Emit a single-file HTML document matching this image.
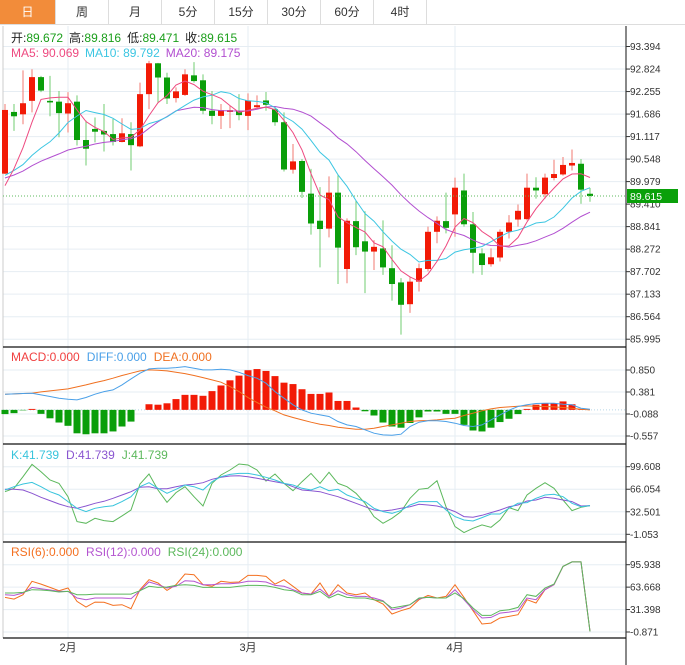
<!DOCTYPE html>
<html><head><meta charset="utf-8">
<style>
html,body{margin:0;padding:0;background:#fff;}
body{width:685px;height:665px;overflow:hidden;position:relative;font-family:"Liberation Sans","Noto Sans CJK SC",sans-serif;}
.tabs{position:absolute;left:0;top:0;width:685px;height:25px;border-bottom:1px solid #ddd;box-sizing:border-box;}
.tab{position:absolute;top:0;height:24px;line-height:24px;text-align:center;font-size:12px;color:#333;border-right:1px solid #ddd;box-sizing:border-box;}
.tab.on{background:#f28c3a;color:#fff;}
svg{position:absolute;left:0;top:0;}
</style></head>
<body>
<div class="tabs">
<div class="tab on" style="left:0;width:56px">日</div>
<div class="tab" style="left:56px;width:53px">周</div>
<div class="tab" style="left:109px;width:53px">月</div>
<div class="tab" style="left:162px;width:53px">5分</div>
<div class="tab" style="left:215px;width:53px">15分</div>
<div class="tab" style="left:268px;width:53px">30分</div>
<div class="tab" style="left:321px;width:53px">60分</div>
<div class="tab" style="left:374px;width:53px">4时</div>
</div>
<svg id="chart" width="685" height="665" viewBox="0 0 685 665" style="top:0"></svg>
<script>
const prevCloses=[90.1,90.0,89.9,90.0,90.1,89.9,90.0,90.0,89.9,90.1,90.4,90.5,90.3,90.4,90.4,89.5,89.3,89.4,89.4];
const opens=[90.18,91.74,91.68,92.02,92.62,92.02,92.00,91.70,92.00,91.03,91.31,91.26,91.18,90.98,91.18,90.87,92.19,92.97,92.61,92.09,92.17,92.665,92.54,91.77,91.64,91.74,91.77,91.64,91.86,92.03,91.81,91.48,90.28,90.50,89.675,88.99,88.79,89.70,87.77,88.98,88.47,88.21,88.29,87.79,87.43,86.88,87.45,87.77,88.71,88.98,89.15,89.755,88.90,88.165,87.89,88.06,88.71,89.02,89.03,89.825,89.66,90.07,90.16,90.385,90.43,89.672];
const highs=[91.94,91.94,92.79,92.82,92.65,92.65,92.27,92.24,92.16,91.52,91.60,91.94,91.56,91.58,91.48,92.48,93.03,92.98,92.73,92.36,92.82,93.00,92.69,92.27,91.94,91.89,92.19,92.21,92.16,92.245,91.89,91.73,90.93,90.55,90.30,89.84,90.11,90.14,89.05,89.50,89.23,88.50,89.00,88.37,87.54,87.58,87.91,88.84,89.10,89.70,90.08,90.18,89.21,88.29,88.29,88.77,89.13,89.40,90.18,90.09,90.18,90.53,90.60,90.79,90.55,89.816];
const lows=[90.17,91.26,91.43,91.73,92.24,91.63,91.10,91.22,90.89,90.385,90.97,90.74,90.89,90.97,90.26,90.85,91.81,91.98,91.94,91.98,92.145,92.48,91.68,91.43,91.31,91.33,91.53,91.28,91.81,91.77,91.39,90.235,90.18,89.565,88.64,87.81,88.57,87.39,87.41,88.12,87.16,87.745,87.62,86.97,86.11,86.66,87.20,87.71,88.42,88.67,88.585,88.84,87.66,87.62,87.83,87.96,88.54,88.84,89.00,89.55,89.55,90.01,90.13,90.26,89.42,89.471];
const closes=[91.79,91.63,91.96,92.62,92.28,91.98,91.71,91.96,91.03,90.81,91.24,91.17,90.98,91.20,90.90,92.19,92.97,92.61,92.08,92.26,92.69,92.52,91.77,91.64,91.785,91.785,91.66,92.03,91.91,91.92,91.48,90.285,90.49,89.72,88.92,88.78,89.70,88.31,88.99,88.32,88.21,88.33,87.81,87.39,86.865,87.45,87.79,88.71,88.99,88.81,89.825,88.90,88.18,87.87,88.065,88.71,88.945,89.24,89.825,89.755,90.08,90.17,90.40,90.45,89.775,89.615];
const priceTicks=[93.394,92.824,92.255,91.686,91.117,90.548,89.979,89.410,88.841,88.272,87.702,87.133,86.564,85.995];
const macdBars=[-0.09,-0.07,-0.01,0.02,-0.085,-0.18,-0.27,-0.34,-0.50,-0.52,-0.50,-0.50,-0.46,-0.355,-0.25,0,0.12,0.11,0.14,0.23,0.32,0.32,0.30,0.40,0.52,0.63,0.73,0.845,0.87,0.83,0.72,0.58,0.55,0.44,0.34,0.34,0.37,0.19,0.19,0.05,-0.03,-0.12,-0.27,-0.355,-0.38,-0.28,-0.16,-0.035,-0.035,-0.085,-0.085,-0.32,-0.44,-0.46,-0.38,-0.26,-0.19,-0.09,0.02,0.11,0.14,0.14,0.18,0.12,0.01,0];
const diffVals=[0.334,0.341,0.348,0.355,0.32,0.284,0.249,0.227,0.213,0.263,0.334,0.39,0.426,0.533,0.66,0.781,0.873,0.888,0.888,0.902,0.923,0.888,0.852,0.852,0.866,0.852,0.802,0.731,0.675,0.568,0.39,0.249,0.107,0,-0.071,-0.107,-0.142,-0.249,-0.32,-0.355,-0.426,-0.497,-0.533,-0.54,-0.518,-0.355,-0.263,-0.234,-0.234,-0.249,-0.284,-0.334,-0.355,-0.32,-0.213,-0.107,-0.007,0.071,0.107,0.135,0.142,0.142,0.121,0.107,0.036,0.014];
const deaVals=[0.334,0.341,0.348,0.355,0.384,0.405,0.426,0.447,0.49,0.533,0.582,0.625,0.675,0.732,0.781,0.83,0.852,0.845,0.83,0.802,0.774,0.732,0.689,0.639,0.589,0.497,0.391,0.262,0.156,0.057,-0.021,-0.107,-0.163,-0.213,-0.263,-0.305,-0.334,-0.369,-0.391,-0.412,-0.412,-0.391,-0.355,-0.32,-0.284,-0.249,-0.234,-0.227,-0.213,-0.192,-0.178,-0.121,-0.071,-0.021,0.021,0.05,0.064,0.078,0.085,0.078,0.071,0.064,0.05,0.036,0.014,0];
const macdTicks=[0.850,0.381,-0.088,-0.557];
const kVals=[64.9,69.9,73.8,76.3,69.9,62.4,57.5,47.6,37.7,32.7,37.7,40.1,41.6,47.6,55.0,69.9,75.8,67.4,60.0,65.9,72.4,69.9,64.9,77.3,84.7,88.2,89.7,89.7,87.2,83.8,79.8,74.8,72.4,67.4,64.9,69.9,63.9,65.9,57.5,52.5,47.6,37.7,32.7,30.2,34.2,42.6,47.6,47.6,47.6,35.2,25.3,20.3,18.8,23.8,29.2,29.2,37.7,45.1,46.1,52.5,57.5,58.5,55.0,45.1,40.1,41.7];
const dVals=[65.9,65.9,64.9,60.0,54.0,49.1,44.1,40.1,37.7,41.1,45.1,48.1,52.5,57.5,62.4,68.9,69.9,66.9,66.9,69.9,72.4,73.4,75.8,80.8,83.8,85.7,86.2,84.7,82.3,79.8,77.3,74.8,69.9,64.9,63.9,62.4,58.5,55.0,50.0,45.1,40.1,35.2,33.7,35.2,37.7,40.1,43.6,42.6,41.1,37.7,32.7,25.3,24.3,27.3,31.2,35.2,40.1,42.6,48.6,50.0,54.0,52.5,50.0,47.6,41.1,41.7];
const jVals=[62.4,67.4,84.7,103.1,92.2,79.8,74.8,55.0,17.8,15.4,22.8,19.3,17.8,26.3,35.2,73.8,88.7,64.9,46.6,61.0,69.9,55.0,41.1,74.8,87.2,94.7,103.6,102.1,94.7,78.3,88.7,74.8,63.9,77.3,89.7,74.8,91.2,74.8,69.9,60.0,45.1,25.3,15.4,22.8,32.7,52.5,65.9,67.4,78.8,40.1,10.4,1.5,7.9,12.9,9.4,20.3,38.7,34.2,57.5,67.4,75.8,67.4,50.0,34.2,39.2,41.7];
const kdjTicks=[99.608,66.054,32.501,-1.053];
const rsi6=[48.9,46.5,52.8,72.0,68.1,63.3,58.5,62.4,43.2,35.0,42.2,41.8,37.4,38.4,32.6,60.0,74.4,69.6,59.0,67.2,82.5,81.6,67.2,64.8,72.0,70.5,71.0,80.6,80.6,79.1,68.1,74.4,64.8,55.2,53.7,69.6,50.4,67.2,55.2,52.8,55.2,45.6,39.4,25.0,29.8,33.6,45.6,51.8,48.0,50.4,67.2,48.9,29.8,10.6,12.0,19.2,21.6,24.0,45.6,40.8,60.0,67.2,93.5,100,100,0];
const rsi12=[52.8,51.8,55.2,63.3,61.4,59.5,57.6,57.6,48.0,45.6,48.0,48.0,48.0,48.0,47.0,58.5,71.0,67.2,62.4,64.8,72.9,72.0,67.2,67.2,68.6,68.6,69.6,72.0,72.0,71.0,66.2,64.8,60.0,55.2,53.7,60.9,50.4,58.5,52.8,50.4,50.4,48.0,44.1,31.2,33.6,38.4,47.0,49.3,48.0,48.0,60.0,45.6,31.2,19.2,20.1,26.3,27.8,29.7,48.0,45.6,60.0,67.2,93.5,100,100,0];
const rsi24=[55.2,55.2,56.1,60.0,59.5,58.5,56.6,57.6,52.8,52.8,53.7,53.7,53.7,53.7,53.7,58.5,64.8,63.3,63.8,66.2,67.2,66.2,63.3,63.3,63.3,63.3,64.8,66.2,66.2,65.7,63.3,60.0,58.5,52.8,52.8,57.6,48.0,53.7,48.9,48.0,48.0,45.6,43.2,33.6,36.0,38.4,48.0,48.9,48.0,48.0,55.2,47.0,33.6,23.0,23.0,29.7,31.2,34.5,52.8,50.4,62.4,68.1,93.5,100,100,0];
const rsiTicks=[95.938,63.668,31.398,-0.871];
const monthLabels=["2月","3月","4月"];
const monthIdx=[7,27,50];
const lastPrice=89.615;

const NS="http://www.w3.org/2000/svg";
const svg=document.getElementById('chart');
function mk(tag,attrs,parent){const e=document.createElementNS(NS,tag);for(const k in attrs)e.setAttribute(k,attrs[k]);(parent||svg).appendChild(e);return e;}
const xi=i=>5+9*i;
const yMain=v=>46.5+(93.394-v)*39.56;
const yMacd=v=>370+(0.850-v)*46.9;
const yKdj=v=>466.7+(99.608-v)*0.6716;
const yRsi=v=>564.7+(95.938-v)*0.6952;
const AX=626;

const grid=mk('g',{});


function hgrid(ticks,fy){ticks.forEach(t=>{mk('line',{x1:3,x2:AX,y1:fy(t),y2:fy(t),stroke:'#e6edf3','stroke-width':1},grid);});}
hgrid(priceTicks,yMain);hgrid(macdTicks,yMacd);hgrid(kdjTicks,yKdj);hgrid(rsiTicks,yRsi);
monthIdx.forEach(i=>{mk('line',{x1:xi(i),x2:xi(i),y1:26,y2:638,stroke:'#e6edf3','stroke-width':1},grid);});
mk('line',{x1:3,x2:3,y1:26,y2:638,stroke:'#ccc','stroke-width':1},grid);
[347,444,542,638].forEach(y=>{mk('line',{x1:3,x2:AX,y1:y,y2:y,stroke:'#111','stroke-width':1.3},grid);});
mk('line',{x1:AX,x2:AX,y1:26,y2:665,stroke:'#111','stroke-width':1},grid);

function axisLabels(ticks,fy,name){const g=mk('g',{});


ticks.forEach(t=>{const y=fy(t);mk('line',{x1:AX,x2:AX+4,y1:y,y2:y,stroke:'#333'},g);
const tx=mk('text',{x:AX+4,y:y+3.5,'font-size':'10','fill':'#333','font-family':'Liberation Sans, sans-serif'},g);tx.textContent=t.toFixed(3);});}
axisLabels(priceTicks,yMain,'price-axis');axisLabels(macdTicks,yMacd,'macd-axis');axisLabels(kdjTicks,yKdj,'kdj-axis');axisLabels(rsiTicks,yRsi,'rsi-axis');

monthLabels.forEach((m,k)=>{const t=mk('text',{x:xi(monthIdx[k]),y:651,'text-anchor':'middle','font-size':'11','fill':'#333'});


t.textContent=m;});

const cg=mk('g',{});


closes.forEach((c,i)=>{const o=opens[i],up=c>=o;const x=xi(i);
mk('line',{x1:x,x2:x,y1:yMain(highs[i]),y2:yMain(lows[i]),stroke:up?'#f27a72':'#72cc72','stroke-width':1},cg);
const top=yMain(Math.max(o,c)),bot=yMain(Math.min(o,c));
const r=mk('rect',{x:x-3,y:top,width:6,height:Math.max(1,bot-top),fill:up?'#f21a06':'#0a9e0a'},cg);

});

const allCloses=prevCloses.concat(closes);
const off=prevCloses.length;
function ma(n){return closes.map((_,i)=>{const k=i+off;const s=Math.max(0,k-n+1);let a=0;for(let j=s;j<=k;j++)a+=allCloses[j];return a/(k-s+1);});}
function poly(vals,fy,color,name){const p=mk('polyline',{points:vals.map((v,i)=>xi(i)+','+fy(v).toFixed(1)).join(' '),fill:'none',stroke:color,'stroke-width':1});

return p;}
poly(ma(20),yMain,'#b24fd0','ma20-line');poly(ma(10),yMain,'#3cc6e2','ma10-line');poly(ma(5),yMain,'#ee4a80','ma5-line');

const ly=yMain(lastPrice);
const dl=mk('line',{x1:3,x2:AX,y1:ly,y2:ly,stroke:'#5cb85c','stroke-width':1,'stroke-dasharray':'1,2'});


const bx=mk('rect',{x:AX+1,y:ly-7,width:51,height:14,fill:'#0aa00a'});


const bt=mk('text',{x:AX+4,y:ly+4,'font-size':'10.5',fill:'#fff'});bt.textContent=lastPrice.toFixed(3);

const mg=mk('g',{});


const z=yMacd(0);
mk('line',{x1:3,x2:AX,y1:z,y2:z,stroke:'#b8d8e8','stroke-dasharray':'1,2'},mg);
macdBars.forEach((v,i)=>{if(v===0)return;const y=yMacd(v);const r=mk('rect',{x:xi(i)-3.5,y:Math.min(y,z),width:7,height:Math.abs(y-z),fill:v>0?'#f21a06':'#0a9e0a'},mg);

});
poly(deaVals,yMacd,'#f07020','dea-line');poly(diffVals,yMacd,'#4aa0e8','diff-line');

poly(jVals,yKdj,'#5cb85c','j-line');poly(dVals,yKdj,'#8a55d0','d-line');poly(kVals,yKdj,'#38c4dc','k-line');
poly(rsi6,yRsi,'#f47020','rsi6-line');poly(rsi12,yRsi,'#b455d0','rsi12-line');poly(rsi24,yRsi,'#5cb85c','rsi24-line');

function legend(y,items,name){const t=mk('text',{x:11,y:y,'font-size':'12','font-family':'Liberation Sans, Noto Sans CJK SC, sans-serif'});


items.forEach(([s,c,dx])=>{const ts=mk('tspan',{fill:c},t);if(dx)ts.setAttribute('dx',dx);ts.textContent=s;});}
legend(42,[['开:','#222'],['89.672','#1a9e1a'],['高:','#222',6],['89.816','#1a9e1a'],['低:','#222',6],['89.471','#1a9e1a'],['收:','#222',6],['89.615','#1a9e1a']],'ohlc-legend');
legend(57,[['MA5: 90.069','#ee4a80'],['MA10: 89.792','#3cc6e2',6],['MA20: 89.175','#b24fd0',6]],'ma-legend');
legend(361,[['MACD:0.000','#f04040'],['DIFF:0.000','#4aa0e8',7],['DEA:0.000','#f07020',7]],'macd-legend');
legend(459,[['K:41.739','#38c4dc'],['D:41.739','#8a55d0',7],['J:41.739','#5cb85c',7]],'kdj-legend');
legend(556,[['RSI(6):0.000','#f47020'],['RSI(12):0.000','#b455d0',7],['RSI(24):0.000','#5cb85c',7]],'rsi-legend');
</script>
</body></html>
